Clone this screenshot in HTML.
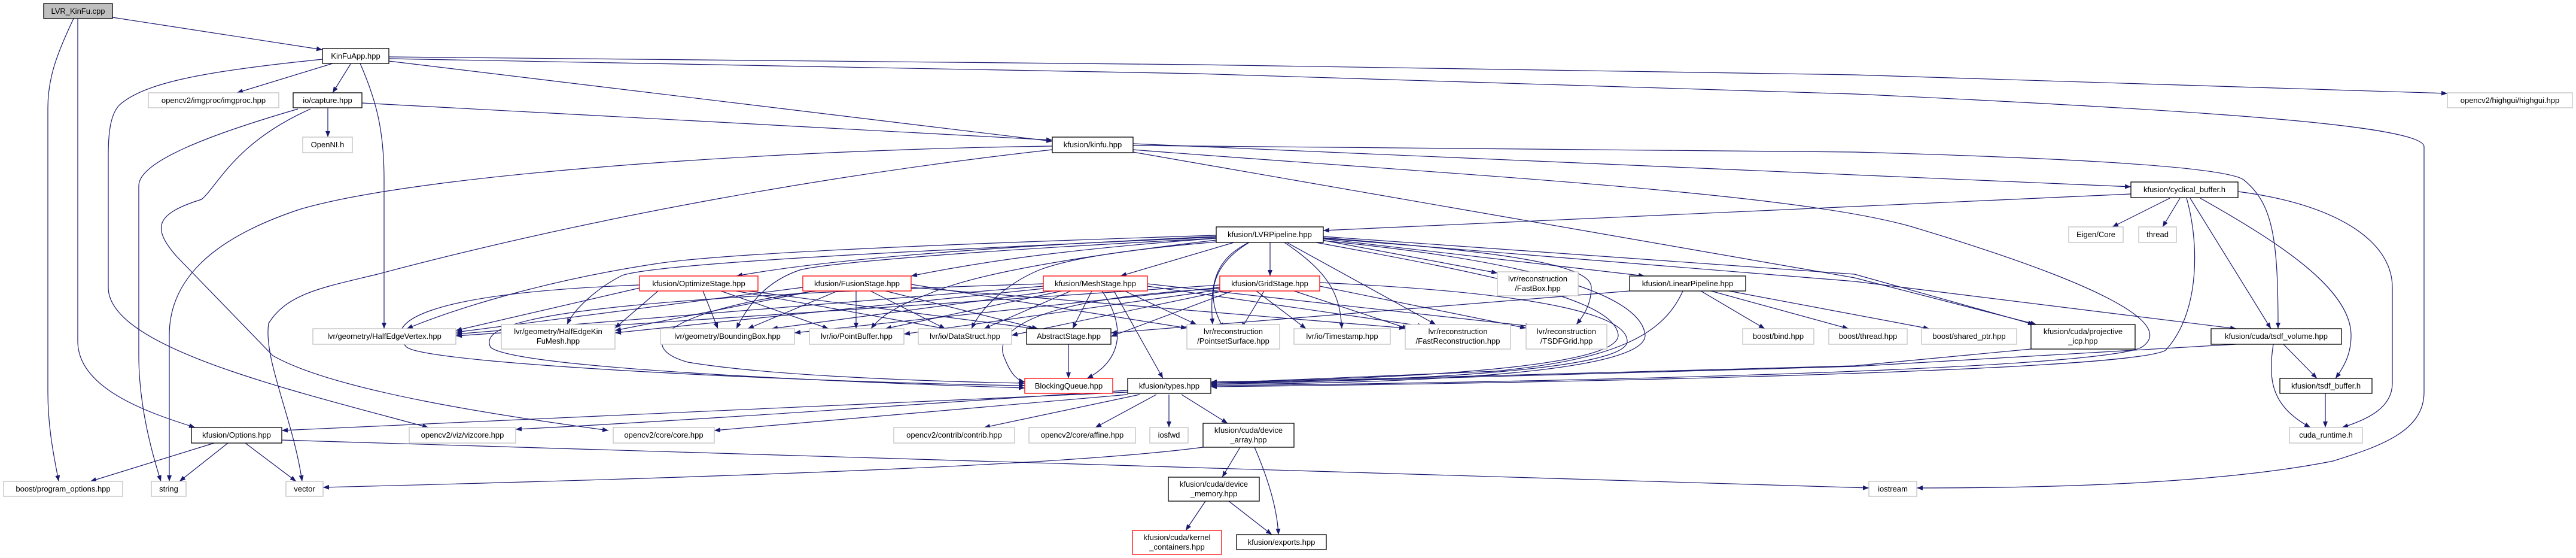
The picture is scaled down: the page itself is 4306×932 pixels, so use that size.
<!DOCTYPE html>
<html><head><meta charset="utf-8"><style>
html,body{margin:0;padding:0;background:#fff;}
svg{display:block;}
text{font-family:"Liberation Sans","DejaVu Sans",sans-serif;font-size:13px;fill:#000;}
.e{fill:none;stroke:#191970;stroke-width:1.2;marker-end:url(#a);}
.n rect{fill:#fff;stroke-width:1.3;}
</style></head><body>
<svg width="4306" height="932" viewBox="0 0 4306 932" xmlns="http://www.w3.org/2000/svg">
<defs><marker id="a" markerUnits="userSpaceOnUse" markerWidth="11" markerHeight="8" refX="10" refY="4" orient="auto"><path d="M0,0 L10,4 L0,8 z" fill="#191970"/></marker></defs>
<g>
<path class="e" d="M188,29 L539,83"/>
<path class="e" d="M123,31 C95,90 80,130 80,180 L80,655 C80,720 92,770 98,804"/>
<path class="e" d="M130,31 L130,570 C130,650 250,690 326,714"/>
<path class="e" d="M556,106 L396,155"/>
<path class="e" d="M586,107 L556,155"/>
<path class="e" d="M602,106 C630,170 642,220 642,300 L642,549"/>
<path class="e" d="M539,99 C330,120 240,140 200,175 C185,190 181,220 181,260 L181,480 C181,580 480,650 716,714"/>
<path class="e" d="M650,102 L1759,236"/>
<path class="e" d="M650,95 L2000,108 L3100,125 L4091,156"/>
<path class="e" d="M650,98 L2000,123 L3100,157 C3700,185 4052,210 4052,245 L4052,655 C4052,720 3980,745 3900,770 C3700,810 3400,815 3204,815"/>
<path class="e" d="M605,172 L1759,234"/>
<path class="e" d="M548,181 L548,229"/>
<path class="e" d="M498,182 C350,225 232,270 232,310 L232,594 C232,680 255,760 269,804"/>
<path class="e" d="M519,182 C393,238 365,309 337,333 C260,357 253,380 295,428 L456,594 C561,654 842,695 1017,719"/>
<path class="e" d="M1759,244 C1300,250 700,290 500,350 C350,400 283,470 283,560 L283,804"/>
<path class="e" d="M1759,250 C1400,290 1000,360 631,458 C540,480 480,490 449,540 C440,600 490,700 505,804"/>
<path class="e" d="M1894,240 L3562,312"/>
<path class="e" d="M1894,243 L3100,254 C3500,265 3720,280 3750,300 C3800,340 3808,400 3808,549"/>
<path class="e" d="M1894,254 L3100,464 L3404,542"/>
<path class="e" d="M1894,250 C2400,290 3000,320 3200,380 C3500,470 3640,540 3580,580 C3500,620 2500,640 2024,644"/>
<path class="e" d="M3562,324 L2212,385"/>
<path class="e" d="M3627,331 L3531,379"/>
<path class="e" d="M3644,331 L3615,379"/>
<path class="e" d="M3661,331 L3796,549"/>
<path class="e" d="M3678,331 C3800,400 3930,480 3930,560 C3930,590 3920,610 3904,632"/>
<path class="e" d="M3741,320 C3900,340 3999,400 3999,480 L3999,640 C3999,680 3960,700 3915,714"/>
<path class="e" d="M3655,331 C3675,400 3680,520 3620,585 C3560,620 2600,640 2024,646"/>
<path class="e" d="M3817,575 L3873,632"/>
<path class="e" d="M3800,575 C3790,640 3800,680 3862,714"/>
<path class="e" d="M3887,657 L3887,714"/>
<path class="e" d="M3738,575 L3100,612 L2024,642"/>
<path class="e" d="M3395,583 L3100,611 L2024,640"/>
<!-- LVRPipeline -->
<path class="e" d="M2123,405 L2123,461"/>
<path class="e" d="M2033,395 C1700,410 1400,430 1231,461"/>
<path class="e" d="M2033,398 C1800,415 1650,435 1523,461"/>
<path class="e" d="M2066,404 L1873,461"/>
<path class="e" d="M2033,393 C1500,410 1200,425 1100,440 C900,470 750,520 680,549"/>
<path class="e" d="M2033,396 C1500,420 1100,440 1040,460 C1000,480 960,515 948,542"/>
<path class="e" d="M2033,398 C1600,420 1380,440 1337,451 C1280,470 1250,510 1231,549"/>
<path class="e" d="M2033,401 C1700,440 1600,470 1547,493 C1500,510 1470,530 1456,549"/>
<path class="e" d="M2033,404 C1850,420 1780,435 1737,451 C1680,475 1640,515 1624,549"/>
<path class="e" d="M2087,405 C2040,430 2020,460 2027,542"/>
<path class="e" d="M2088,405 C2030,440 2010,490 2046,549"/>
<path class="e" d="M2147,405 C2230,460 2240,500 2243,549"/>
<path class="e" d="M2151,405 L2400,542"/>
<path class="e" d="M2210,401 L2503,456"/>
<path class="e" d="M2212,397 C2500,420 2660,440 2660,480 C2660,510 2645,530 2635,542"/>
<path class="e" d="M2212,399 L2749,461"/>
<path class="e" d="M2212,395 L3100,458 L3400,542"/>
<path class="e" d="M2212,398 L3100,470 L3738,549"/>
<path class="e" d="M2200,405 C2500,460 2700,500 2705,560 C2705,610 2400,632 2024,638"/>
<path class="e" d="M2212,402 C2600,440 2745,500 2750,560 C2750,620 2400,640 2024,642"/>
<!-- Stages -->
<path class="e" d="M1175,486 L1200,549"/>
<path class="e" d="M1205,486 L1385,549"/>
<path class="e" d="M1230,486 L1580,549"/>
<path class="e" d="M1250,486 L1730,549"/>
<path class="e" d="M1069,481 L762,552"/>
<path class="e" d="M1100,486 L1028,548"/>
<path class="e" d="M1069,476 C700,490 640,540 680,580 C720,610 1400,640 1713,644"/>
<path class="e" d="M1400,486 L1250,549"/>
<path class="e" d="M1431,486 L1431,549"/>
<path class="e" d="M1455,486 L1580,549"/>
<path class="e" d="M1480,486 L1735,549"/>
<path class="e" d="M1523,475 L1984,548"/>
<path class="e" d="M1523,480 L2349,548"/>
<path class="e" d="M1342,480 L762,555"/>
<path class="e" d="M1360,486 L1028,552"/>
<path class="e" d="M1365,486 C1100,520 1060,580 1150,605 C1300,630 1600,638 1713,640"/>
<path class="e" d="M1744,478 L762,558"/>
<path class="e" d="M1744,482 L1028,556"/>
<path class="e" d="M1760,486 L1290,549"/>
<path class="e" d="M1775,486 L1480,549"/>
<path class="e" d="M1790,486 L1645,549"/>
<path class="e" d="M1825,486 L1793,549"/>
<path class="e" d="M1862,486 L1944,632"/>
<path class="e" d="M1842,486 C1880,540 1880,600 1817,632"/>
<path class="e" d="M1880,486 L2000,542"/>
<path class="e" d="M1918,478 L2380,545"/>
<path class="e" d="M1918,474 L2560,545"/>
<path class="e" d="M1744,474 C900,500 800,540 820,580 C860,615 1400,638 1713,648"/>
<path class="e" d="M2039,476 L762,561"/>
<path class="e" d="M2039,480 L1328,556"/>
<path class="e" d="M2039,484 L1511,558"/>
<path class="e" d="M2045,486 L1691,560"/>
<path class="e" d="M2060,486 L1857,562"/>
<path class="e" d="M2113,486 L2075,549"/>
<path class="e" d="M2163,486 L2354,549"/>
<path class="e" d="M2100,486 L2183,549"/>
<path class="e" d="M2206,478 L2551,548"/>
<path class="e" d="M2206,472 C2600,490 2720,530 2720,570 C2720,615 2400,636 2024,640"/>
<path class="e" d="M2039,482 C1700,500 1660,560 1680,600 C1690,625 1700,635 1713,638"/>
<path class="e" d="M2843,486 L2950,549"/>
<path class="e" d="M2860,486 L3090,549"/>
<path class="e" d="M2890,486 L3225,549"/>
<path class="e" d="M2724,486 L1857,556"/>
<path class="e" d="M2813,486 C2780,560 2700,600 2500,620 L2024,640"/>
<path class="e" d="M1786,575 L1786,632"/>
<!-- types -->
<path class="e" d="M1885,655 C1600,670 1100,692 471,719"/>
<path class="e" d="M1885,652 C1600,670 1200,700 862,717"/>
<path class="e" d="M1885,659 L1194,719"/>
<path class="e" d="M1905,659 L1645,714"/>
<path class="e" d="M1933,659 L1831,714"/>
<path class="e" d="M1954,659 L1954,714"/>
<path class="e" d="M1975,659 L2052,707"/>
<path class="e" d="M2011,747 C1800,775 1300,795 540,814"/>
<path class="e" d="M2073,747 L2043,797"/>
<path class="e" d="M2097,747 C2120,800 2135,850 2137,893"/>
<path class="e" d="M2015,837 L1982,886"/>
<path class="e" d="M2054,837 L2126,893"/>
<path class="e" d="M358,740 L151,804"/>
<path class="e" d="M381,740 L300,804"/>
<path class="e" d="M410,740 L495,804"/>
<path class="e" d="M471,735 C1500,770 2500,800 3124,815"/>
</g>
<g class="n">
<rect x="73" y="6" width="115" height="25" style="fill:#bfbfbf" stroke="#000"/><text x="130.5" y="23" text-anchor="middle">LVR_KinFu.cpp</text>
<rect x="539" y="81" width="111" height="25" stroke="#000"/><text x="594.5" y="98" text-anchor="middle">KinFuApp.hpp</text>
<rect x="248" y="155" width="218" height="25" stroke="#bfbfbf"/><text x="357" y="172" text-anchor="middle">opencv2/imgproc/imgproc.hpp</text>
<rect x="490" y="155" width="115" height="25" stroke="#000"/><text x="547.5" y="172" text-anchor="middle">io/capture.hpp</text>
<rect x="506" y="229" width="83" height="26" stroke="#bfbfbf"/><text x="547.5" y="246" text-anchor="middle">OpenNI.h</text>
<rect x="1759" y="229" width="135" height="26" stroke="#000"/><text x="1826.5" y="246" text-anchor="middle">kfusion/kinfu.hpp</text>
<rect x="4091" y="155" width="209" height="25" stroke="#bfbfbf"/><text x="4195.5" y="172" text-anchor="middle">opencv2/highgui/highgui.hpp</text>
<rect x="3562" y="304" width="179" height="26" stroke="#000"/><text x="3651.5" y="321" text-anchor="middle">kfusion/cyclical_buffer.h</text>
<rect x="3458" y="379" width="91" height="26" stroke="#bfbfbf"/><text x="3503.5" y="396" text-anchor="middle">Eigen/Core</text>
<rect x="3575" y="379" width="63" height="26" stroke="#bfbfbf"/><text x="3606.5" y="396" text-anchor="middle">thread</text>
<rect x="2033" y="379" width="179" height="26" stroke="#000"/><text x="2122.5" y="396" text-anchor="middle">kfusion/LVRPipeline.hpp</text>
<rect x="1069" y="461" width="198" height="25" stroke="#f00"/><text x="1168" y="478" text-anchor="middle">kfusion/OptimizeStage.hpp</text>
<rect x="1342" y="461" width="181" height="25" stroke="#f00"/><text x="1432.5" y="478" text-anchor="middle">kfusion/FusionStage.hpp</text>
<rect x="1744" y="461" width="174" height="25" stroke="#f00"/><text x="1831" y="478" text-anchor="middle">kfusion/MeshStage.hpp</text>
<rect x="2039" y="461" width="167" height="25" stroke="#f00"/><text x="2122.5" y="478" text-anchor="middle">kfusion/GridStage.hpp</text>
<rect x="2503" y="454" width="135" height="40" stroke="#bfbfbf"/><text x="2570.5" y="470" text-anchor="middle">lvr/reconstruction</text><text x="2570.5" y="486" text-anchor="middle">/FastBox.hpp</text>
<rect x="2724" y="461" width="194" height="25" stroke="#000"/><text x="2821" y="478" text-anchor="middle">kfusion/LinearPipeline.hpp</text>
<rect x="523" y="549" width="239" height="26" stroke="#bfbfbf"/><text x="642.5" y="566" text-anchor="middle">lvr/geometry/HalfEdgeVertex.hpp</text>
<rect x="838" y="542" width="190" height="41" stroke="#bfbfbf"/><text x="933" y="558" text-anchor="middle">lvr/geometry/HalfEdgeKin</text><text x="933" y="574" text-anchor="middle">FuMesh.hpp</text>
<rect x="1104" y="549" width="224" height="26" stroke="#bfbfbf"/><text x="1216" y="566" text-anchor="middle">lvr/geometry/BoundingBox.hpp</text>
<rect x="1353" y="549" width="158" height="26" stroke="#bfbfbf"/><text x="1432" y="566" text-anchor="middle">lvr/io/PointBuffer.hpp</text>
<rect x="1535" y="549" width="156" height="26" stroke="#bfbfbf"/><text x="1613" y="566" text-anchor="middle">lvr/io/DataStruct.hpp</text>
<rect x="1716" y="549" width="141" height="26" stroke="#000"/><text x="1786.5" y="566" text-anchor="middle">AbstractStage.hpp</text>
<rect x="1984" y="542" width="155" height="41" stroke="#bfbfbf"/><text x="2061.5" y="558" text-anchor="middle">lvr/reconstruction</text><text x="2061.5" y="574" text-anchor="middle">/PointsetSurface.hpp</text>
<rect x="2163" y="549" width="161" height="26" stroke="#bfbfbf"/><text x="2243.5" y="566" text-anchor="middle">lvr/io/Timestamp.hpp</text>
<rect x="2349" y="542" width="176" height="41" stroke="#bfbfbf"/><text x="2437" y="558" text-anchor="middle">lvr/reconstruction</text><text x="2437" y="574" text-anchor="middle">/FastReconstruction.hpp</text>
<rect x="2551" y="542" width="135" height="41" stroke="#bfbfbf"/><text x="2618.5" y="558" text-anchor="middle">lvr/reconstruction</text><text x="2618.5" y="574" text-anchor="middle">/TSDFGrid.hpp</text>
<rect x="2913" y="549" width="119" height="26" stroke="#bfbfbf"/><text x="2972.5" y="566" text-anchor="middle">boost/bind.hpp</text>
<rect x="3057" y="549" width="131" height="26" stroke="#bfbfbf"/><text x="3122.5" y="566" text-anchor="middle">boost/thread.hpp</text>
<rect x="3212" y="549" width="159" height="26" stroke="#bfbfbf"/><text x="3291.5" y="566" text-anchor="middle">boost/shared_ptr.hpp</text>
<rect x="3395" y="542" width="174" height="41" stroke="#000"/><text x="3482" y="558" text-anchor="middle">kfusion/cuda/projective</text><text x="3482" y="574" text-anchor="middle">_icp.hpp</text>
<rect x="3696" y="549" width="218" height="26" stroke="#000"/><text x="3805" y="566" text-anchor="middle">kfusion/cuda/tsdf_volume.hpp</text>
<rect x="1713" y="632" width="147" height="25" stroke="#f00"/><text x="1786.5" y="649" text-anchor="middle">BlockingQueue.hpp</text>
<rect x="1885" y="632" width="139" height="25" stroke="#000"/><text x="1954.5" y="649" text-anchor="middle">kfusion/types.hpp</text>
<rect x="3811" y="632" width="154" height="25" stroke="#000"/><text x="3888" y="649" text-anchor="middle">kfusion/tsdf_buffer.h</text>
<rect x="320" y="714" width="151" height="26" stroke="#000"/><text x="395.5" y="731" text-anchor="middle">kfusion/Options.hpp</text>
<rect x="684" y="714" width="178" height="26" stroke="#bfbfbf"/><text x="773" y="731" text-anchor="middle">opencv2/viz/vizcore.hpp</text>
<rect x="1025" y="714" width="169" height="26" stroke="#bfbfbf"/><text x="1109.5" y="731" text-anchor="middle">opencv2/core/core.hpp</text>
<rect x="1494" y="714" width="202" height="26" stroke="#bfbfbf"/><text x="1595" y="731" text-anchor="middle">opencv2/contrib/contrib.hpp</text>
<rect x="1720" y="714" width="178" height="26" stroke="#bfbfbf"/><text x="1809" y="731" text-anchor="middle">opencv2/core/affine.hpp</text>
<rect x="1922" y="714" width="64" height="26" stroke="#bfbfbf"/><text x="1954" y="731" text-anchor="middle">iosfwd</text>
<rect x="2011" y="707" width="152" height="40" stroke="#000"/><text x="2087" y="723" text-anchor="middle">kfusion/cuda/device</text><text x="2087" y="739" text-anchor="middle">_array.hpp</text>
<rect x="3827" y="714" width="122" height="26" stroke="#bfbfbf"/><text x="3888" y="731" text-anchor="middle">cuda_runtime.h</text>
<rect x="6" y="804" width="199" height="25" stroke="#bfbfbf"/><text x="105.5" y="821" text-anchor="middle">boost/program_options.hpp</text>
<rect x="253" y="804" width="58" height="25" stroke="#bfbfbf"/><text x="282" y="821" text-anchor="middle">string</text>
<rect x="478" y="804" width="62" height="25" stroke="#bfbfbf"/><text x="509" y="821" text-anchor="middle">vector</text>
<rect x="3124" y="804" width="80" height="25" stroke="#bfbfbf"/><text x="3164" y="821" text-anchor="middle">iostream</text>
<rect x="1953" y="797" width="152" height="40" stroke="#000"/><text x="2029" y="813" text-anchor="middle">kfusion/cuda/device</text><text x="2029" y="829" text-anchor="middle">_memory.hpp</text>
<rect x="1893" y="886" width="149" height="40" stroke="#f00"/><text x="1967.5" y="902" text-anchor="middle">kfusion/cuda/kernel</text><text x="1967.5" y="918" text-anchor="middle">_containers.hpp</text>
<rect x="2067" y="893" width="150" height="25" stroke="#000"/><text x="2142" y="910" text-anchor="middle">kfusion/exports.hpp</text>
</g>
</svg>
</body></html>
